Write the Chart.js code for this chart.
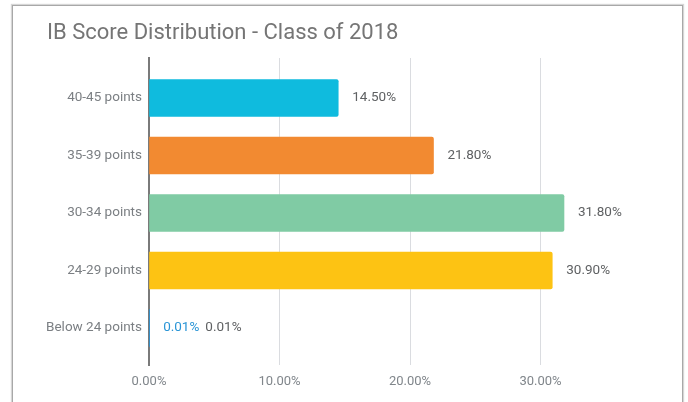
<!DOCTYPE html>
<html>
<head>
<meta charset="utf-8">
<script src="https://cdn.jsdelivr.net/npm/chart.js@4/dist/chart.umd.min.js"></script>
<style>
    body { margin: 0; background: #fff; }
    #wrap { position: relative; width: 688px; height: 402px; overflow: hidden; }
    #frame {
        position: absolute; left: 12px; top: 5px; width: 669px; height: 420px;
        border: 1px solid #a8a8a8; box-shadow: 0 0 1px 1px #d6d6d6;
    }
    #scoreChart { position: absolute; left: 0; top: 0; }
</style>
</head>
<body>
<div id="wrap">
    <div id="frame"></div>
    <canvas id="scoreChart" width="688" height="402"></canvas>
</div>
<script>
const categories = ['40-45 points', '35-39 points', '30-34 points', '24-29 points', 'Below 24 points'];
const percentages = [14.5, 21.8, 31.8, 30.9, 0.01];
const barColors = ['#0fbbde', '#f28a31', '#80cba4', '#fdc313', '#2a95d6'];
const xTicks = [0, 10, 20, 30];

// draw the value text to the right of every bar
const valueLabels = {
    id: 'valueLabels',
    afterDatasetsDraw(chart) {
        const ctx = chart.ctx;
        const meta = chart.getDatasetMeta(0);
        ctx.save();
        ctx.font = '13.5px Roboto';
        ctx.textBaseline = 'middle';
        ctx.textAlign = 'left';
        meta.data.forEach((bar, i) => {
            const text = percentages[i].toFixed(2) + '%';
            let x = bar.x + 14;
            if (Math.abs(bar.x - bar.base) < 1) {
                // bar too thin to see: annotation in the series colour first
                ctx.fillStyle = barColors[i];
                ctx.fillText(text, x, bar.y);
                x += ctx.measureText(text).width + 6;
            }
            ctx.fillStyle = '#5f6163';
            ctx.fillText(text, x, bar.y);
        });
        ctx.restore();
    }
};

Chart.defaults.font.family = 'Roboto';

const ctx = document.getElementById('scoreChart').getContext('2d');
new Chart(ctx, {
    type: 'bar',
    data: {
        datasets: [{
            data: percentages.map((v, i) => ({ x: v, y: i })),
            backgroundColor: barColors,
            borderWidth: 0,
            borderRadius: 2,
            borderSkipped: 'start',
            barThickness: 37,
        }],
    },
    options: {
        indexAxis: 'y',
        responsive: false,
        animation: false,
        layout: {
            padding: { top: 20, left: 47, right: 17, bottom: 0 },
        },
        plugins: {
            legend: { display: false },
            tooltip: { enabled: false },
            title: {
                display: true,
                text: 'IB Score Distribution - Class of 2018',
                align: 'start',
                color: '#757575',
                font: { size: 22, weight: 'normal' },
                padding: { top: 0, bottom: 11.6 },
            },
        },
        scales: {
            y: {
                type: 'linear',
                reverse: true,
                offset: false,
                min: -0.696,
                max: 4.643,
                afterBuildTicks: (scale) => {
                    scale.ticks = categories.map((_, i) => ({ value: i }));
                },
                afterFit: (scale) => { scale.width = 102; },
                ticks: {
                    callback: (v) => categories[v],
                    color: '#7b7f83',
                    font: { size: 13.5 },
                    padding: 7,
                    autoSkip: false,
                },
                grid: { display: false, drawTicks: false },
                border: { display: true, color: '#7a7a7a', width: 2 },
            },
            x: {
                min: 0,
                max: 40,
                afterBuildTicks: (scale) => {
                    scale.ticks = xTicks.concat([40]).map((v) => ({ value: v }));
                },
                afterFit: (scale) => { scale.height = 37; },
                ticks: {
                    callback: (v) => (xTicks.includes(v) ? v.toFixed(2) + '%' : ''),
                    color: '#80868b',
                    font: { size: 13 },
                    padding: 9,
                },
                grid: {
                    drawTicks: false,
                    color: (c) => (c.tick && c.tick.value === 40 ? 'rgba(0,0,0,0)' : '#dadce0'),
                },
                border: { display: false },
            },
        },
    },
    plugins: [valueLabels],
});
</script>
</body>
</html>
